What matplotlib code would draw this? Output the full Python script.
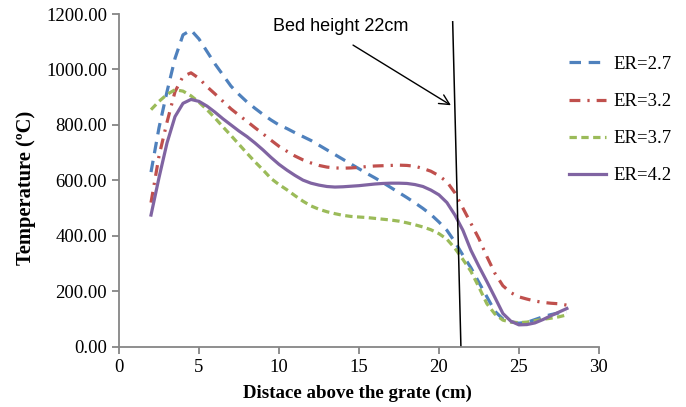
import numpy as np
import matplotlib as mpl
mpl.use('Agg')
from matplotlib import pyplot as plt

# distance above the grate (cm), readings every 0.5 cm
dist = np.arange(2, 28.01, 0.5)

er27 = [630, 790, 920, 1040, 1125, 1142, 1110, 1065, 1020, 980,
        940, 910, 883, 860, 838, 818, 800, 787, 772, 758,
        744, 727, 710, 693, 676, 659, 642, 625, 609, 592,
        574, 556, 538, 519, 499, 477, 450, 420, 378, 330,
        285, 232, 180, 128, 100, 90, 85, 88, 98, 108,
        116, 122, 125]
er32 = [520, 688, 810, 920, 975, 988, 968, 938, 912, 885,
        858, 835, 813, 790, 768, 745, 723, 705, 688, 674,
        663, 654, 648, 645, 644, 645, 647, 650, 652, 653,
        654, 655, 654, 651, 643, 633, 617, 595, 555, 500,
        445, 390, 325, 265, 220, 195, 180, 172, 165, 160,
        157, 155, 150]
er37 = [855, 885, 910, 927, 922, 905, 882, 855, 825, 793,
        762, 730, 698, 667, 638, 607, 585, 566, 545, 525,
        508, 496, 487, 480, 474, 470, 468, 466, 463, 460,
        457, 453, 447, 440, 432, 422, 408, 388, 355, 315,
        272, 215, 155, 118, 96, 89, 87, 89, 94, 99,
        103, 108, 115]
er42 = [475, 610, 735, 830, 878, 892, 885, 868, 846, 822,
        800, 778, 758, 735, 710, 683, 658, 637, 618, 601,
        590, 583, 578, 576, 577, 579, 581, 584, 587, 589,
        590, 590, 589, 585, 578, 565, 548, 520, 475, 420,
        348, 290, 235, 178, 120, 92, 79, 80, 86, 98,
        112, 125, 138]

labels = ['ER=2.7', 'ER=3.2', 'ER=3.7', 'ER=4.2']

serif = ['Liberation Serif', 'DejaVu Serif']
plt.rcParams['font.family'] = serif

fig = plt.figure(figsize=(6.86, 4.07), dpi=100)
ax = fig.add_axes([0.1735, 0.148, 0.6995, 0.8175])

lw = 2.3
ax.plot(dist, er27, color='#4F81BD', lw=lw, dashes=(3.6, 2.4), label=labels[0])
ax.plot(dist, er32, color='#C0504D', lw=lw, dashes=(3.4, 2.2, 0.7, 2.2), label=labels[1])
ax.plot(dist, er37, color='#9BBB59', lw=lw, dashes=(2.3, 1.4), label=labels[2])
ax.plot(dist, er42, color='#8064A2', lw=lw, label=labels[3])

# bed height marker
ax.plot([20.86, 21.375], [1172, 0], color='black', lw=1.1)
ax.annotate('', xy=(20.75, 871), xytext=(14.63, 1088),
            arrowprops=dict(arrowstyle='->', color='black', lw=1.0,
                            mutation_scale=18, shrinkA=0, shrinkB=0))
ax.text(9.62, 1155, 'Bed height 22cm', family='Liberation Sans',
        fontsize=13, va='center', ha='left')

ax.set_xlim(0, 30)
ax.set_ylim(0, 1200)
ax.set_xticks(range(0, 31, 5))
ax.set_yticks(range(0, 1201, 200))
ax.yaxis.set_major_formatter(mpl.ticker.FormatStrFormatter('%.2f'))

for s in ['top', 'right']:
    ax.spines[s].set_visible(False)
for s in ['left', 'bottom']:
    ax.spines[s].set_color('#868686')
    ax.spines[s].set_linewidth(1.3)
ax.tick_params(colors='#868686', labelcolor='black', labelsize=13.5,
               length=5, width=1.3, direction='out')

ax.set_xlabel('Distace above the grate (cm)', fontsize=13.6, fontweight='bold')
ax.set_ylabel('Temperature (ºC)', fontsize=14.8, fontweight='bold')
ax.xaxis.set_label_coords(0.497, -0.113)
ax.yaxis.set_label_coords(-0.173, 0.477)

fig.legend(loc='upper left', bbox_to_anchor=(0.829, 0.863), frameon=False,
           fontsize=13.5, handlelength=2.0, handletextpad=0.4,
           labelspacing=1.07, borderpad=0, borderaxespad=0)

plt.savefig('out.png', dpi=100)
